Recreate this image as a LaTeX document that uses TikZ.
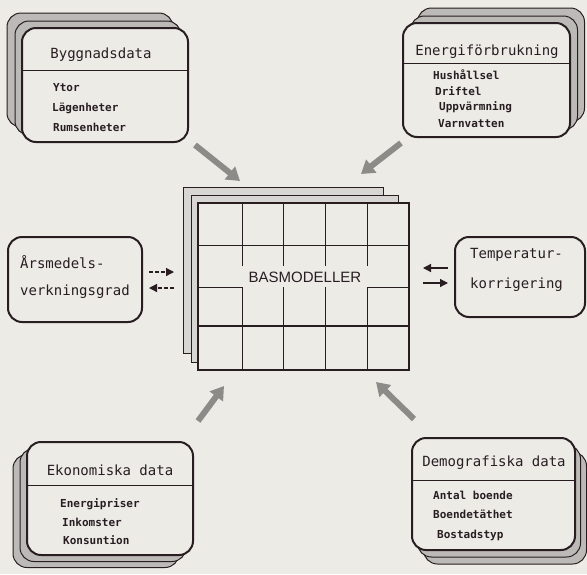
\documentclass[tikz,border=0pt]{standalone}
\usepackage{fontspec}
\setmonofont{DejaVu Sans Mono}
\setsansfont{Liberation Sans}
\usetikzlibrary{positioning, calc, arrows.meta}

\definecolor{paper}{RGB}{236,235,230}
\definecolor{ink}{RGB}{40,30,34}
\definecolor{stipple}{RGB}{188,186,182}

\tikzset{
  frontbox/.style={draw=ink, line width=2pt, rounded corners=14pt, fill=paper},
  shadowbox/.style={draw=ink, line width=1pt, rounded corners=14pt, fill=stipple},
  titletext/.style={text=ink, font=\ttfamily\fontsize{14}{16}\selectfont, inner sep=0pt},
  itemtext/.style={text=ink, font=\ttfamily\bfseries\fontsize{11}{13}\selectfont, inner sep=0pt, anchor=west},
  sidetext/.style={text=ink, font=\ttfamily\fontsize{14}{16}\selectfont, inner sep=0pt, anchor=west},
  fatarrow/.style={line width=6pt, stipple!75!black, -{Triangle[width=16pt,length=13pt]}},
  smallarrow/.style={ink, line width=1.2pt, -{Triangle[width=8pt,length=8pt]}},
  gridline/.style={ink, line width=1pt},
}

\begin{document}
\begin{tikzpicture}[x=1pt, y=-1pt]
    \fill[paper] (0,0) rectangle (587,574);
    \useasboundingbox (0,0) rectangle (587,574);

    % Byggnadsdata
    \node[shadowbox, minimum width=166pt, minimum height=114pt] (byggS2) at (90,70) {};
    \node[shadowbox, minimum width=166pt, minimum height=114pt] (byggS1) at (98,78) {};
    \node[frontbox, minimum width=166pt, minimum height=114pt] (bygg) at (105,85) {};
    \draw[ink] ([yshift=15pt]bygg.west) -- ([yshift=15pt]bygg.east);
    \node[titletext] (byggT) at (101,55) {Byggnadsdata};
    \node[itemtext] (bygg1) at (53,88) {Ytor};
    \node[itemtext] (bygg2) at (52,108) {Lägenheter};
    \node[itemtext] (bygg3) at (53,127) {Rumsenheter};

    % Energiförbrukning
    \node[shadowbox, minimum width=167pt, minimum height=114pt] (energiS2) at (501,65) {};
    \node[shadowbox, minimum width=167pt, minimum height=114pt] (energiS1) at (494,73) {};
    \node[frontbox, minimum width=167pt, minimum height=114pt] (energi) at (486.5,80) {};
    \draw[ink] ([yshift=17pt]energi.west) -- ([yshift=17pt]energi.east);
    \node[titletext] (energiT) at (487,52) {Energiförbrukning};
    \node[itemtext] (energi1) at (433,75) {Hushållsel};
    \node[itemtext] (energi2) at (435,91) {Driftel};
    \node[itemtext] (energi3) at (439,107) {Uppvärmning};
    \node[itemtext] (energi4) at (438,124) {Varnvatten};

    % Ekonomiska data
    \node[shadowbox, minimum width=166pt, minimum height=113pt] (ekonS2) at (96,511) {};
    \node[shadowbox, minimum width=166pt, minimum height=113pt] (ekonS1) at (103,505) {};
    \node[frontbox, minimum width=166pt, minimum height=113pt] (ekon) at (110,498.5) {};
    \draw[ink] ([yshift=13.5pt]ekon.west) -- ([yshift=13.5pt]ekon.east);
    \node[titletext] (ekonT) at (110,470) {Ekonomiska data};
    \node[itemtext] (ekon1) at (60,504) {Energipriser};
    \node[itemtext] (ekon2) at (62,522) {Inkomster};
    \node[itemtext] (ekon3) at (63,540) {Konsuntion};

    % Demografiska data
    \node[shadowbox, minimum width=163pt, minimum height=112pt] (demoS2) at (505,508) {};
    \node[shadowbox, minimum width=163pt, minimum height=112pt] (demoS1) at (499,501) {};
    \node[frontbox, minimum width=163pt, minimum height=112pt] (demo) at (493.5,494) {};
    \draw[ink] ([yshift=14pt]demo.west) -- ([yshift=14pt]demo.east);
    \node[titletext] (demoT) at (494,463) {Demografiska data};
    \node[itemtext] (demo1) at (433,495) {Antal boende};
    \node[itemtext] (demo2) at (433,514) {Boendetäthet};
    \node[itemtext] (demo3) at (437,535) {Bostadstyp};

    % Årsmedelsverkningsgrad
    \node[frontbox, minimum width=134pt, minimum height=85pt] (arsm) at (75,279.5) {};
    \node[sidetext] (arsm1) at (20,262) {Årsmedels-};
    \node[sidetext] (arsm2) at (20,292) {verkningsgrad};

    % Temperaturkorrigering
    \node[frontbox, minimum width=130pt, minimum height=80pt] (temp) at (520,277) {};
    \node[sidetext] (temp1) at (470,255) {Temperatur-};
    \node[sidetext] (temp2) at (470,285) {korrigering};

    % BASMODELLER
    \draw[ink, line width=1pt, fill=stipple!60] (183,187) rectangle (383,353);
    \draw[ink, line width=1pt, fill=stipple!60] (191,195) rectangle (398,362);
    \node[draw=ink, line width=2.5pt, fill=paper, minimum width=211pt, minimum height=167pt] (bas) at (303.5,286.5) {};
    \foreach \x in {242,283,325,367} {
        \draw[gridline] (\x,203) -- (\x,266);
        \draw[gridline] (\x,287) -- (\x,370);
    }
    \draw[gridline] (bas.west |- 0,245) -- (bas.east |- 0,245);
    \draw[gridline] (bas.west |- 0,287) -- (242,287);
    \draw[gridline] (367,287) -- (bas.east |- 0,287);
    \draw[ink, line width=2.5pt] (bas.west |- 0,326) -- (bas.east |- 0,326);
    \node[text=ink, font=\sffamily\fontsize{15}{17}\selectfont, inner sep=0pt] (basT) at (305,277) {BASMODELLER};

    % pilar
    \coordinate (a1s) at (195,145);  \coordinate (a1e) at (240,181);
    \coordinate (a2s) at (401,143);  \coordinate (a2e) at (361,174);
    \coordinate (a3s) at (198,421);  \coordinate (a3e) at (224,386);
    \coordinate (a4s) at (414,419);  \coordinate (a4e) at (376,382);
    \draw[fatarrow] (a1s) -- (a1e);
    \draw[fatarrow] (a2s) -- (a2e);
    \draw[fatarrow] (a3s) -- (a3e);
    \draw[fatarrow] (a4s) -- (a4e);

    \draw[smallarrow, dash pattern=on 4pt off 2pt] ($(arsm.east |- 0,272)+(6,0)$) -- ++(25,0);
    \draw[smallarrow, dash pattern=on 4pt off 2pt] ($(arsm.east |- 0,288)+(31,0)$) -- ++(-25,0);
    \draw[smallarrow] ($(temp.west |- 0,268)+(-6,0)$) -- ++(-25,0);
    \draw[smallarrow] ($(temp.west |- 0,283)+(-31,0)$) -- ++(25,0);

\end{tikzpicture}
\end{document}
